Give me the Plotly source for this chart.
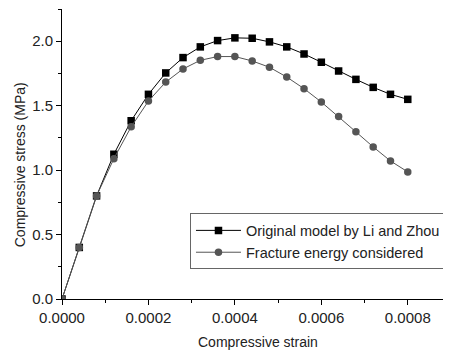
import plotly.graph_objects as go

strain = [0, 0.00004, 0.00008, 0.00012, 0.00016, 0.0002, 0.00024, 0.00028, 0.00032, 0.00036,
          0.0004, 0.00044, 0.00048, 0.00052, 0.00056, 0.0006, 0.00064, 0.00068, 0.00072, 0.00076, 0.0008]
original = [0, 0.40, 0.80, 1.123, 1.383, 1.588, 1.754, 1.873, 1.956, 2.005,
            2.026, 2.023, 1.995, 1.956, 1.901, 1.837, 1.769, 1.704, 1.642, 1.588, 1.549]
fracture = [0, 0.40, 0.80, 1.089, 1.336, 1.536, 1.683, 1.785, 1.852, 1.881,
            1.881, 1.847, 1.798, 1.722, 1.632, 1.528, 1.416, 1.297, 1.180, 1.071, 0.986]
x_ticks = [0, 0.0002, 0.0004, 0.0006, 0.0008]
y_ticks = [0, 0.5, 1.0, 1.5, 2.0]
x_title = "Compressive strain"
y_title = "Compressive stress (MPa)"

fig = go.Figure()
fig.add_trace(go.Scatter(x=strain, y=original, mode="lines+markers",
                         name="Original model by Li and Zhou",
                         line=dict(color="#000000", width=1),
                         marker=dict(symbol="square", size=7.5, color="#000000")))
fig.add_trace(go.Scatter(x=strain, y=fracture, mode="lines+markers",
                         name="Fracture energy considered",
                         line=dict(color="#555555", width=1),
                         marker=dict(symbol="circle", size=7.5, color="#555555")))

axis_common = dict(showline=True, linecolor="#000000", linewidth=1, ticks="outside",
                   ticklen=5, tickcolor="#000000", showgrid=False, zeroline=False,
                   mirror=False, automargin=False, tickfont=dict(size=15, color="#222222"))

fig.update_xaxes(range=[0, 0.0009], tickvals=x_ticks, tickformat=".4f",
                 minor=dict(ticks="outside", ticklen=3, tickcolor="#000000", showgrid=False,
                            tickvals=[0.0001, 0.0003, 0.0005, 0.0007, 0.0009]),
                 **axis_common)
fig.update_yaxes(range=[0, 2.25], tickvals=y_ticks, tickformat=".1f",
                 minor=dict(ticks="outside", ticklen=3, tickcolor="#000000", showgrid=False,
                            tickvals=[0.25, 0.75, 1.25, 1.75, 2.25]),
                 **axis_common)

fig.add_annotation(text=x_title, xref="paper", yref="paper", x=0.5026, y=-0.1468,
                   xanchor="center", yanchor="middle", showarrow=False,
                   font=dict(size=14, color="#222222"))
fig.add_annotation(text=y_title, xref="paper", yref="paper", x=-0.108, y=0.4646,
                   xanchor="center", yanchor="middle", showarrow=False, textangle=-90,
                   font=dict(size=14, color="#222222"))

# page body has an 8px default margin, so the figure is shifted by 8px; compensate
fig.update_layout(
    width=443, height=343,
    margin=dict(l=54, r=0, t=1, b=52),
    plot_bgcolor="white", paper_bgcolor="white",
    font=dict(family="Liberation Sans, Arial, sans-serif", size=14, color="#222222"),
    legend=dict(x=0.329, y=0.295, xanchor="left", yanchor="top",
                bordercolor="#666666", borderwidth=1, bgcolor="white",
                font=dict(size=14.5), tracegroupgap=0, itemwidth=45),
)

fig.write_html("out.html")
